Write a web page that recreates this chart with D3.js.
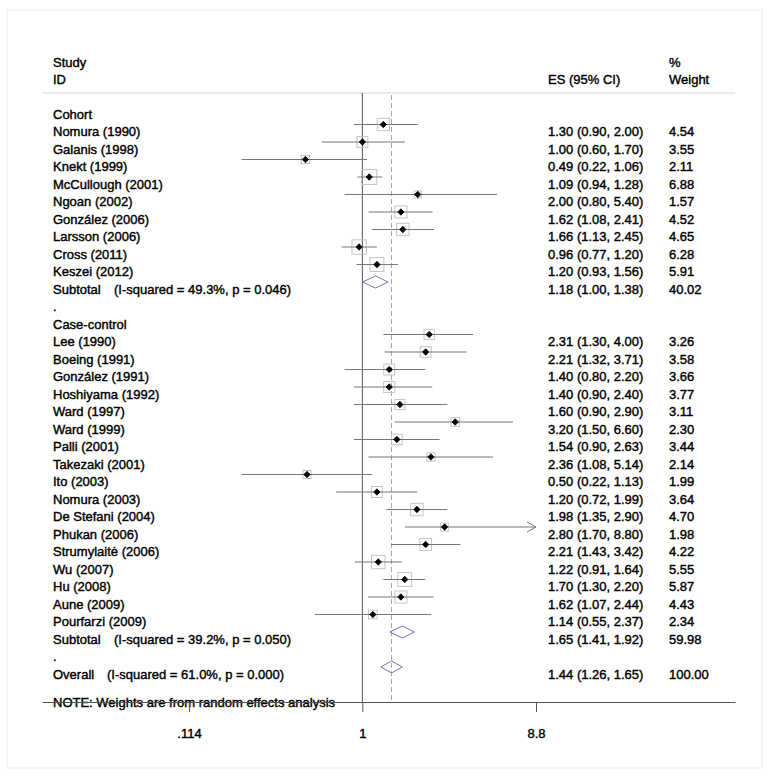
<!DOCTYPE html>
<html>
<head>
<meta charset="utf-8">
<script src="https://cdn.jsdelivr.net/npm/d3@7"></script>
<style>
  body { margin: 0; background: #fff; }
  text { font-family: "Liberation Sans", Arial, sans-serif; font-size: 13px; fill: #000; stroke: #000; stroke-width: 0.4px; }
</style>
</head>
<body>
<svg id="chart" width="771" height="777"></svg>
<script>
// ---------------- DATA ----------------
const cohortStudies = ["Nomura (1990)", "Galanis (1998)", "Knekt (1999)", "McCullough (2001)", "Ngoan (2002)",
  "González (2006)", "Larsson (2006)", "Cross (2011)", "Keszei (2012)"];
const cohortES = [1.30, 1.00, 0.49, 1.09, 2.00, 1.62, 1.66, 0.96, 1.20];
const cohortLo = [0.90, 0.60, 0.22, 0.94, 0.80, 1.08, 1.13, 0.77, 0.93];
const cohortHi = [2.00, 1.70, 1.06, 1.28, 5.40, 2.41, 2.45, 1.20, 1.56];
const cohortW  = [4.54, 3.55, 2.11, 6.88, 1.57, 4.52, 4.65, 6.28, 5.91];

const ccStudies = ["Lee (1990)", "Boeing (1991)", "González (1991)", "Hoshiyama (1992)", "Ward (1997)", "Ward (1999)",
  "Palli (2001)", "Takezaki (2001)", "Ito (2003)", "Nomura (2003)", "De Stefani (2004)", "Phukan (2006)",
  "Strumylaitė (2006)", "Wu (2007)", "Hu (2008)", "Aune (2009)", "Pourfarzi (2009)"];
const ccES = [2.31, 2.21, 1.40, 1.40, 1.60, 3.20, 1.54, 2.36, 0.50, 1.20, 1.98, 2.80, 2.21, 1.22, 1.70, 1.62, 1.14];
const ccLo = [1.30, 1.32, 0.80, 0.90, 0.90, 1.50, 0.90, 1.08, 0.22, 0.72, 1.35, 1.70, 1.43, 0.91, 1.30, 1.07, 0.55];
const ccHi = [4.00, 3.71, 2.20, 2.40, 2.90, 6.60, 2.63, 5.14, 1.13, 1.99, 2.90, 8.80, 3.42, 1.64, 2.20, 2.44, 2.37];
const ccW  = [3.26, 3.58, 3.66, 3.77, 3.11, 2.30, 3.44, 2.14, 1.99, 3.64, 4.70, 1.98, 4.22, 5.55, 5.87, 4.43, 2.34];

const pooledLabels = ["Subtotal", "Subtotal", "Overall"];
const pooledStats  = ["(I-squared = 49.3%, p = 0.046)", "(I-squared = 39.2%, p = 0.050)", "(I-squared = 61.0%, p = 0.000)"];
const pooledES = [1.18, 1.65, 1.44];
const pooledLo = [1.00, 1.41, 1.26];
const pooledHi = [1.38, 1.92, 1.65];
const pooledW  = [40.02, 59.98, 100.00];

const tickValues = [0.114, 1, 8.8];
const tickLabels = [".114", "1", "8.8"];
const groupLabels = ["Cohort", "Case-control"];

// ---------------- LAYOUT ----------------
const svg = d3.select("#chart");
const fmt = d3.format(".2f");
const plotL = 42, plotR = 735;
const xBase = d3.scaleLog().domain([0.114, 8.8]).range([189, 536]);
const x = d3.scaleLog().domain([xBase.invert(plotL), xBase.invert(plotR)]).range([plotL, plotR]);
const xMax = 8.8;

const rowY = d3.scaleLinear().domain([0, 32]).range([114, 114 + 32 * 17.5]);
const markOff = -7;

const rows = [];
rows.push({type: "group", label: groupLabels[0], r: 0});
cohortStudies.forEach((s, i) => rows.push({type: "study", label: s, es: cohortES[i], lo: cohortLo[i], hi: cohortHi[i], w: cohortW[i], r: 1 + i}));
rows.push({type: "pooled", label: pooledLabels[0], stat: pooledStats[0], es: pooledES[0], lo: pooledLo[0], hi: pooledHi[0], w: pooledW[0], r: 10, statX: 114});
rows.push({type: "dot", label: ".", r: 11});
rows.push({type: "group", label: groupLabels[1], r: 12});
ccStudies.forEach((s, i) => rows.push({type: "study", label: s, es: ccES[i], lo: ccLo[i], hi: ccHi[i], w: ccW[i], r: 13 + i}));
rows.push({type: "pooled", label: pooledLabels[1], stat: pooledStats[1], es: pooledES[1], lo: pooledLo[1], hi: pooledHi[1], w: pooledW[1], r: 30, statX: 114});
rows.push({type: "dot", label: ".", r: 31});
rows.push({type: "pooled", label: pooledLabels[2], stat: pooledStats[2], es: pooledES[2], lo: pooledLo[2], hi: pooledHi[2], w: pooledW[2], r: 32, statX: 107});

// ---------------- FRAME ----------------
svg.append("rect").attr("x", 7).attr("y", 10).attr("width", 755).attr("height", 758)
  .attr("fill", "none").attr("stroke", "#ececec").attr("stroke-width", 1);

const colL = 53, colES = 548, colW = 669;
svg.append("text").attr("x", colL).attr("y", 62).attr("dy", "0.35em").text("Study");
svg.append("text").attr("x", colL).attr("y", 79).attr("dy", "0.35em").text("ID");
svg.append("text").attr("x", colES).attr("y", 79).attr("dy", "0.35em").text("ES (95% CI)");
svg.append("text").attr("x", colW).attr("y", 62).attr("dy", "0.35em").text("%");
svg.append("text").attr("x", colW).attr("y", 79).attr("dy", "0.35em").text("Weight");

svg.append("line").attr("x1", plotL).attr("x2", plotR).attr("y1", 93).attr("y2", 93)
  .attr("stroke", "#d8d8d8").attr("stroke-width", 1);

const axisY = 702;
svg.append("line").attr("x1", x(1)).attr("x2", x(1)).attr("y1", 93).attr("y2", axisY)
  .attr("stroke", "#555").attr("stroke-width", 1);

svg.append("line").attr("x1", x(pooledES[2])).attr("x2", x(pooledES[2])).attr("y1", 95).attr("y2", axisY)
  .attr("stroke", "#c89a9a").attr("stroke-width", 1).attr("stroke-dasharray", "5,3");

// ---------------- ROWS ----------------
const g = svg.append("g");
rows.forEach(d => {
  const ty = rowY(d.r);
  const my = ty + markOff;
  g.append("text").attr("x", colL).attr("y", ty).attr("dy", "0.35em").text(d.label);
  if (d.type === "pooled") {
    g.append("text").attr("x", d.statX).attr("y", ty).attr("dy", "0.35em").text(d.stat);
  }
  if (d.type === "study") {
    const side = 5.72 * Math.sqrt(d.w);
    g.append("rect").attr("x", x(d.es) - side / 2).attr("y", my - side / 2)
      .attr("width", side).attr("height", side)
      .attr("fill", "none").attr("stroke", "#c4c4c4").attr("stroke-width", 1);
    const hiClip = Math.min(d.hi, xMax);
    g.append("line").attr("x1", x(d.lo)).attr("x2", x(hiClip)).attr("y1", my).attr("y2", my)
      .attr("stroke", "#777").attr("stroke-width", 1);
    if (d.hi >= xMax) {
      const ax = x(hiClip);
      g.append("path").attr("d", `M${ax - 9},${my - 5}L${ax},${my}L${ax - 9},${my + 5}`)
        .attr("fill", "none").attr("stroke", "#777").attr("stroke-width", 1);
    }
    const cx = x(d.es), r = 3.2;
    g.append("path").attr("d", `M${cx - r},${my}L${cx},${my - r}L${cx + r},${my}L${cx},${my + r}Z`)
      .attr("fill", "#000").attr("stroke", "#000").attr("stroke-width", 0.8).attr("stroke-linejoin", "round");
  }
  if (d.type === "pooled") {
    const h = 6;
    g.append("path")
      .attr("d", `M${x(d.lo)},${my}L${x(d.es)},${my - h}L${x(d.hi)},${my}L${x(d.es)},${my + h}Z`)
      .attr("fill", "none").attr("stroke", "#7474b4").attr("stroke-width", 1);
  }
  if (d.type === "study" || d.type === "pooled") {
    g.append("text").attr("x", colES).attr("y", ty).attr("dy", "0.35em")
      .text(`${fmt(d.es)} (${fmt(d.lo)}, ${fmt(d.hi)})`);
    g.append("text").attr("x", colW).attr("y", ty).attr("dy", "0.35em").text(fmt(d.w));
  }
});

svg.append("text").attr("x", colL).attr("y", 702).attr("dy", "0.35em")
  .text("NOTE: Weights are from random effects analysis");

// ---------------- AXIS ----------------
const axis = d3.axisBottom(x).tickValues(tickValues)
  .tickFormat((d, i) => tickLabels[i]).tickSize(10).tickSizeOuter(0);
const ax = svg.append("g").attr("transform", `translate(0,${axisY})`).call(axis);
ax.select(".domain").attr("stroke", "#555");
ax.selectAll(".tick line").attr("stroke", "#555");
ax.selectAll(".tick text").attr("y", 31).attr("dy", "0.35em")
  .style("font-family", "'Liberation Sans', Arial, sans-serif").style("font-size", "13px")
  .attr("fill", "#000").attr("stroke", "#000").attr("stroke-width", 0.4);
</script>
</body>
</html>
